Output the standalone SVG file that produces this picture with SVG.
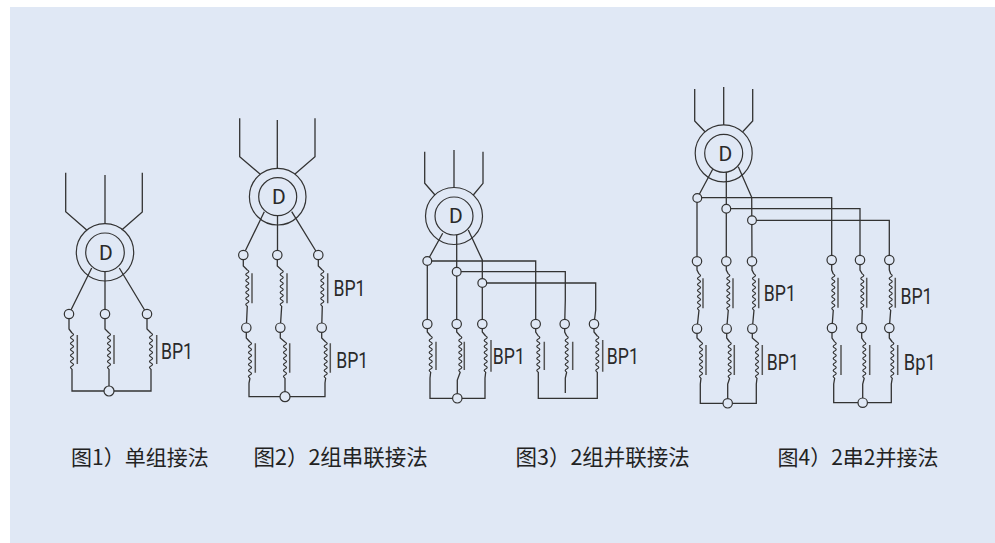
<svg xmlns="http://www.w3.org/2000/svg" xmlns:xlink="http://www.w3.org/1999/xlink" width="995" height="543" viewBox="0 0 995 543">
<style>
.w{fill:none;stroke:#333;stroke-width:1.3}
.c{fill:none;stroke:#333;stroke-width:1.2}
.b{fill:none;stroke:#555;stroke-width:1.5}
.t{fill:#e0e8f5;stroke:#333;stroke-width:1.2}
.r{fill:none;stroke:#333;stroke-width:1.2}
.l{font-family:"Roboto","Liberation Sans",sans-serif;font-size:21.5px;fill:#2a2a2a}
.d{font-family:"Roboto","Liberation Sans",sans-serif;font-size:21px;fill:#2a2a2a;text-anchor:middle}
.cap{font-family:"Noto Sans CJK SC",sans-serif;font-size:21px;fill:#222}
.cap2{font-size:21.5px}
</style>
<defs>
<path id="coil" class="c" d="M0 0q3 1.5 0 3q-3 1.5 0 3q3 1.5 0 3q-3 1.5 0 3q3 1.5 0 3q-3 1.5 0 3q3 1.5 0 3q-3 1.5 0 3q3 1.5 0 3q-3 1.5 0 3q3 1.5 0 3q-3 1.5 0 3"/>
</defs>
<rect x="10" y="7" width="985" height="536" fill="#e0e8f5"/>
<g id="connectors" class="w">
<path class="w" d="M65.7 172.7V211.7L86.7 230M105 175V224M142.3 172.7V212L121.7 230M91.7 268L69 314M105 271.6V314M119.3 268L147 314M69 314V329L72 333M105 314V329L109 333M147 314V329L151 333M72 369V391H151V369M109 369V391"/>
<path class="w" d="M239.7 118.3V156.7L260 174M277.3 120V168.5M315 118.3V156.7L295 174M264.3 211.7L243.3 255M277.5 215.7V255M291.7 211.7L318.3 255M243.3 255V266L247.3 270M277.3 255V266L281.7 270M318.3 255V266L322.3 270M247.3 306L246.3 327.7V338L250 342M281.7 306L280.3 327.7V338L285 342M322.3 306L321.7 327.7V338L325.7 342M250 378L249 383V396.7H325V383L325.7 378M285 378V396.7"/>
<path class="w" d="M424.7 151.7V183.3L435 195M454 150V187.5M483 151.7V183.3L473.3 195M442.7 233.3L427.3 261M456.7 235V271.7M468.3 230L482.3 260V324M427.3 261H535.7V324M456.7 271.7H565.3V300L564.7 324M482.3 283H595.7V310L594 324M427.3 261V324M456.7 271.7V324M427.3 324V332L430.7 336M456.7 324V332L460.3 336M482.3 324V332L485.7 336M535.7 324V332L538.3 336M564.7 324V332L566.7 336M594 324V332L597.3 336M430.7 372L430 378V398.3H485V378L485.7 372M460.3 372L457.3 380V398.3M538.3 372V398.3H597.3V372M566.7 372L565.3 378V393"/>
<path class="w" d="M694.7 89V121L705 131.7M723.7 87V125M752.7 89V121L742.7 131.7M712.7 169.3L697.3 198M726.3 172V208.7M738.3 166.7L751.7 197.3L752 261.3M697 197.7H831.7V260M726.3 208.7H860V260M752 220.3H889.3V260M697 198V261.3M726.3 208.7V261.3M697 261.3V270L699 274M726.3 261.3V270L728.3 274M752 261.3V270L754 274M699 310L697 328.7V338L701 342M728.3 310L726.7 328.7V338L729.7 342M754 310L752.3 328.7V338L757 342M701 378L700.3 384V403.3H756.3V384L757 378M729.7 378L727.7 384V403.3M831.7 260V270L833.3 274M860 260V270L862.3 274M889.3 260V270L890.7 274M833.3 310L832 328V338L834.7 342M862.3 310L861.7 328V338L864.3 342M890.7 310L889.3 328V338L892.3 342M834.7 378L833.7 384V402.7H891.3V384L892.3 378M864.3 378L862.7 384V402.7"/>
</g>
<g id="motor-1"><circle class="r" cx="105" cy="252.3" r="28.7"/><circle class="r" cx="105" cy="252.3" r="19.3"/><text class="d" x="106" y="259.5">D</text></g>
<g id="motor-2"><circle class="r" cx="277.7" cy="196.7" r="28.3"/><circle class="r" cx="277.7" cy="196.7" r="19"/><text class="d" x="279" y="204">D</text></g>
<g id="motor-3"><circle class="r" cx="454" cy="216" r="28.5"/><circle class="r" cx="454" cy="216" r="19"/><text class="d" x="456" y="223">D</text></g>
<g id="motor-4"><circle class="r" cx="723.7" cy="153.3" r="28.5"/><circle class="r" cx="723.7" cy="153.3" r="19"/><text class="d" x="725.5" y="160.5">D</text></g>
<g id="terminals-1">
<circle class="t" cx="69" cy="314" r="4.7"/><circle class="t" cx="105" cy="314" r="4.7"/><circle class="t" cx="147" cy="314" r="4.7"/><circle class="t" cx="109" cy="391" r="5"/>
</g>
<g id="terminals-2">
<circle class="t" cx="243.3" cy="255" r="4.7"/><circle class="t" cx="277.3" cy="255" r="4.7"/><circle class="t" cx="318.3" cy="255" r="4.7"/><circle class="t" cx="246.3" cy="327.7" r="4.7"/><circle class="t" cx="280.3" cy="327.7" r="4.7"/><circle class="t" cx="321.7" cy="327.7" r="4.7"/><circle class="t" cx="285" cy="396.7" r="5"/>
</g>
<g id="terminals-3">
<circle class="t" cx="427.3" cy="261" r="4.4"/><circle class="t" cx="456.7" cy="271.7" r="4.4"/><circle class="t" cx="482.3" cy="283" r="4.4"/><circle class="t" cx="427.3" cy="324" r="4.7"/><circle class="t" cx="456.7" cy="324" r="4.7"/><circle class="t" cx="482.3" cy="324" r="4.7"/><circle class="t" cx="535.7" cy="324" r="4.7"/><circle class="t" cx="564.7" cy="324" r="4.7"/><circle class="t" cx="594" cy="324" r="4.7"/><circle class="t" cx="457.3" cy="398.3" r="4.7"/>
</g>
<g id="terminals-4">
<circle class="t" cx="697.3" cy="198" r="4.4"/><circle class="t" cx="726.3" cy="208.7" r="4.4"/><circle class="t" cx="752" cy="220.3" r="4.4"/><circle class="t" cx="697" cy="261.3" r="4.7"/><circle class="t" cx="726.3" cy="261.3" r="4.7"/><circle class="t" cx="752" cy="261.3" r="4.7"/><circle class="t" cx="831.7" cy="260" r="4.7"/><circle class="t" cx="860" cy="260" r="4.7"/><circle class="t" cx="889.3" cy="260" r="4.7"/><circle class="t" cx="697" cy="328.7" r="4.7"/><circle class="t" cx="726.7" cy="328.7" r="4.7"/><circle class="t" cx="752.3" cy="328.7" r="4.7"/><circle class="t" cx="832" cy="328" r="4.7"/><circle class="t" cx="861.7" cy="328" r="4.7"/><circle class="t" cx="889.3" cy="328" r="4.7"/><circle class="t" cx="727.7" cy="403.3" r="4.7"/><circle class="t" cx="862.7" cy="402.7" r="4.7"/>
</g>
<g id="windings-1">
<use href="#coil" x="72" y="333"/><use href="#coil" x="109" y="333"/><use href="#coil" x="151" y="333"/>
<path class="b" d="M77.3 335V364M114 335V364M156.7 335V364"/>
<text class="l" x="161" y="359.3" textLength="32" lengthAdjust="spacingAndGlyphs">BP1</text>
</g>
<g id="windings-2">
<use href="#coil" x="247.3" y="270"/><use href="#coil" x="281.7" y="270"/><use href="#coil" x="322.3" y="270"/><use href="#coil" x="250" y="342"/><use href="#coil" x="285" y="342"/><use href="#coil" x="325.7" y="342"/>
<path class="b" d="M252 273.3V303.3M287 273.3V303.3M327.7 273.3V303.3M255.3 343.3V372.7M289.7 343.3V372.7M330.3 343.3V372.7"/>
<text class="l" x="333.5" y="296" textLength="32" lengthAdjust="spacingAndGlyphs">BP1</text>
<text class="l" x="336.2" y="368" textLength="32" lengthAdjust="spacingAndGlyphs">BP1</text>
</g>
<g id="windings-3">
<use href="#coil" x="430.7" y="336"/><use href="#coil" x="460.3" y="336"/><use href="#coil" x="485.7" y="336"/><use href="#coil" x="538.3" y="336"/><use href="#coil" x="566.7" y="336"/><use href="#coil" x="597.3" y="336"/>
<path class="b" d="M436 341.7V370M464.3 341.7V370M491 340V371.7M544.3 341.7V370M572.7 341.7V370M602.7 340V371.7"/>
<text class="l" x="492.8" y="363.6" textLength="32" lengthAdjust="spacingAndGlyphs">BP1</text>
<text class="l" x="606.8" y="363.6" textLength="32" lengthAdjust="spacingAndGlyphs">BP1</text>
</g>
<g id="windings-4">
<use href="#coil" x="699" y="274"/><use href="#coil" x="728.3" y="274"/><use href="#coil" x="754" y="274"/><use href="#coil" x="833.3" y="274"/><use href="#coil" x="862.3" y="274"/><use href="#coil" x="890.7" y="274"/><use href="#coil" x="701" y="342"/><use href="#coil" x="729.7" y="342"/><use href="#coil" x="757" y="342"/><use href="#coil" x="834.7" y="342"/><use href="#coil" x="864.3" y="342"/><use href="#coil" x="892.3" y="342"/>
<path class="b" d="M703 278.3V308.3M733 278.3V308.3M758.7 278.3V308.3M838 277.7V307.7M866.7 277.7V307.7M895.3 277.7V307.7M706 345V375M734.3 345V375M762.3 345V375M841 345V375M869.7 345V375M897.7 345V375"/>
<text class="l" x="763.8" y="301.3" textLength="32" lengthAdjust="spacingAndGlyphs">BP1</text>
<text class="l" x="900.5" y="303.6" textLength="32" lengthAdjust="spacingAndGlyphs">BP1</text>
<text class="l" x="766.8" y="369.6" textLength="32" lengthAdjust="spacingAndGlyphs">BP1</text>
<text class="l" x="903.8" y="369.6" textLength="32" lengthAdjust="spacingAndGlyphs">Bp1</text>
</g>
<g id="captions">
<text class="cap" x="71" y="465">图1）单组接法</text>
<text class="cap cap2" x="253.5" y="465">图2）2组串联接法</text>
<text class="cap cap2" x="515.5" y="465">图3）2组并联接法</text>
<text class="cap" x="777.5" y="465">图4）2串2并接法</text>
</g>
</svg>
